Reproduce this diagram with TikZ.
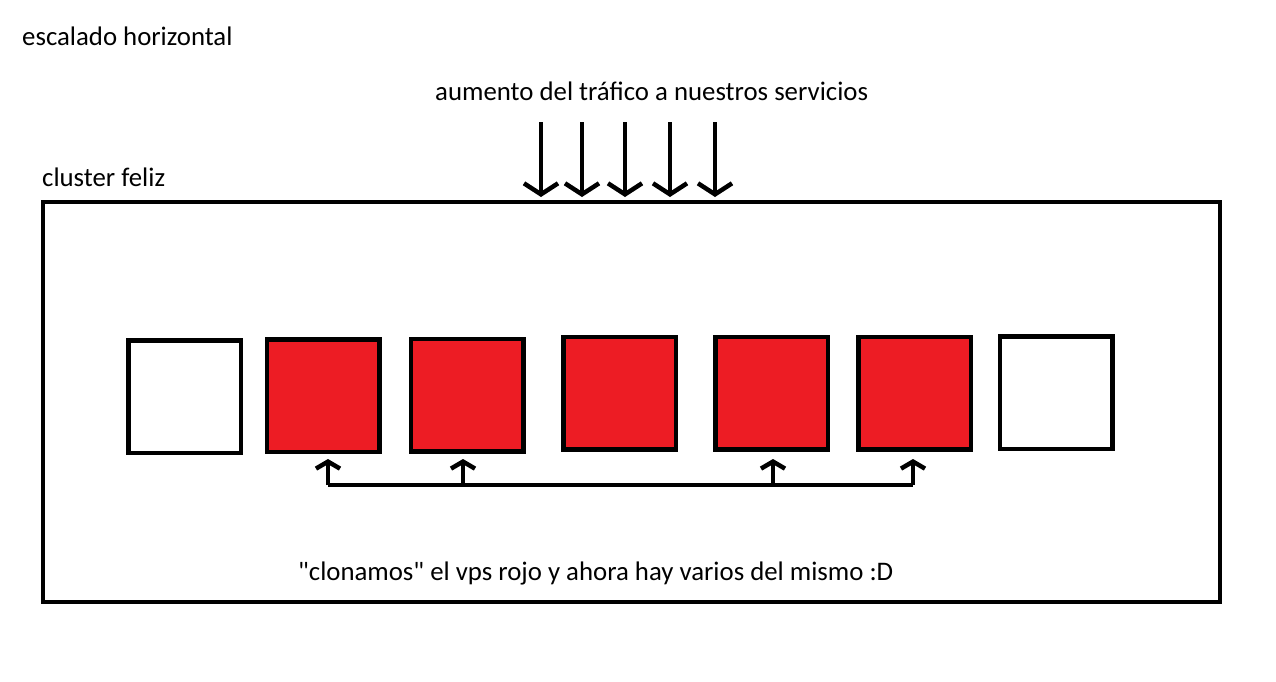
\documentclass[tikz,border=0pt]{standalone}
\usepackage{fontspec}
\setmainfont{Carlito}
\usetikzlibrary{arrows.meta}
\definecolor{vpsred}{HTML}{ED1C24}
\tikzset{
  vps/.style={draw, line width=4.5pt, minimum size=112.5pt, inner sep=0pt},
  txt/.style={anchor=base west, inner sep=0pt, font=\fontsize{26.8}{30}\selectfont},
  wire/.style={line width=4.5pt},
  bigtip/.style={-{Straight Barb[length=11pt,width=34pt]}},
  smalltip/.style={-{Straight Barb[length=7pt,width=24pt]}}
}
\begin{document}
\begin{tikzpicture}[x=1pt,y=-1pt]
  \useasboundingbox (0,0) rectangle (1276,681);
  \node[txt] (title) at (22,45) {escalado horizontal};
  \node[txt] (traffic) at (435,100) {aumento del tráfico a nuestros servicios};
  \node[txt] (cluster) at (42,186) {cluster feliz};
  \node[draw, line width=4.5pt, minimum width=1177pt, minimum height=400pt, inner sep=0pt]
    (box) at (631.5,402) {};
  \foreach \x in {541,582,625,670,715}
    \draw[wire,bigtip] (\x,122) -- (\x,197);
  \node[vps] (v1) at (184.5,396.5) {};
  \node[vps, fill=vpsred] (v2) at (323,395.5) {};
  \node[vps, fill=vpsred] (v3) at (467,395) {};
  \node[vps, fill=vpsred] (v4) at (619.5,393) {};
  \node[vps, fill=vpsred] (v5) at (771.5,393) {};
  \node[vps, fill=vpsred] (v6) at (914.5,393) {};
  \node[vps] (v7) at (1056,392.5) {};
  \coordinate (bus) at (0,485);
  \coordinate (a2) at (328,459);
  \coordinate (a3) at (463,459);
  \coordinate (a5) at (773,459);
  \coordinate (a6) at (913,459);
  \draw[wire, line join=round] (a2 |- bus) -- (a6 |- bus);
  \foreach \a in {a2,a3,a5,a6}
    \draw[wire,smalltip] (\a |- bus) -- (\a);
  \node[txt] (note) at (298,580) {\textquotedbl clonamos\textquotedbl{} el vps rojo y ahora hay varios del mismo :D};
\end{tikzpicture}
\end{document}
